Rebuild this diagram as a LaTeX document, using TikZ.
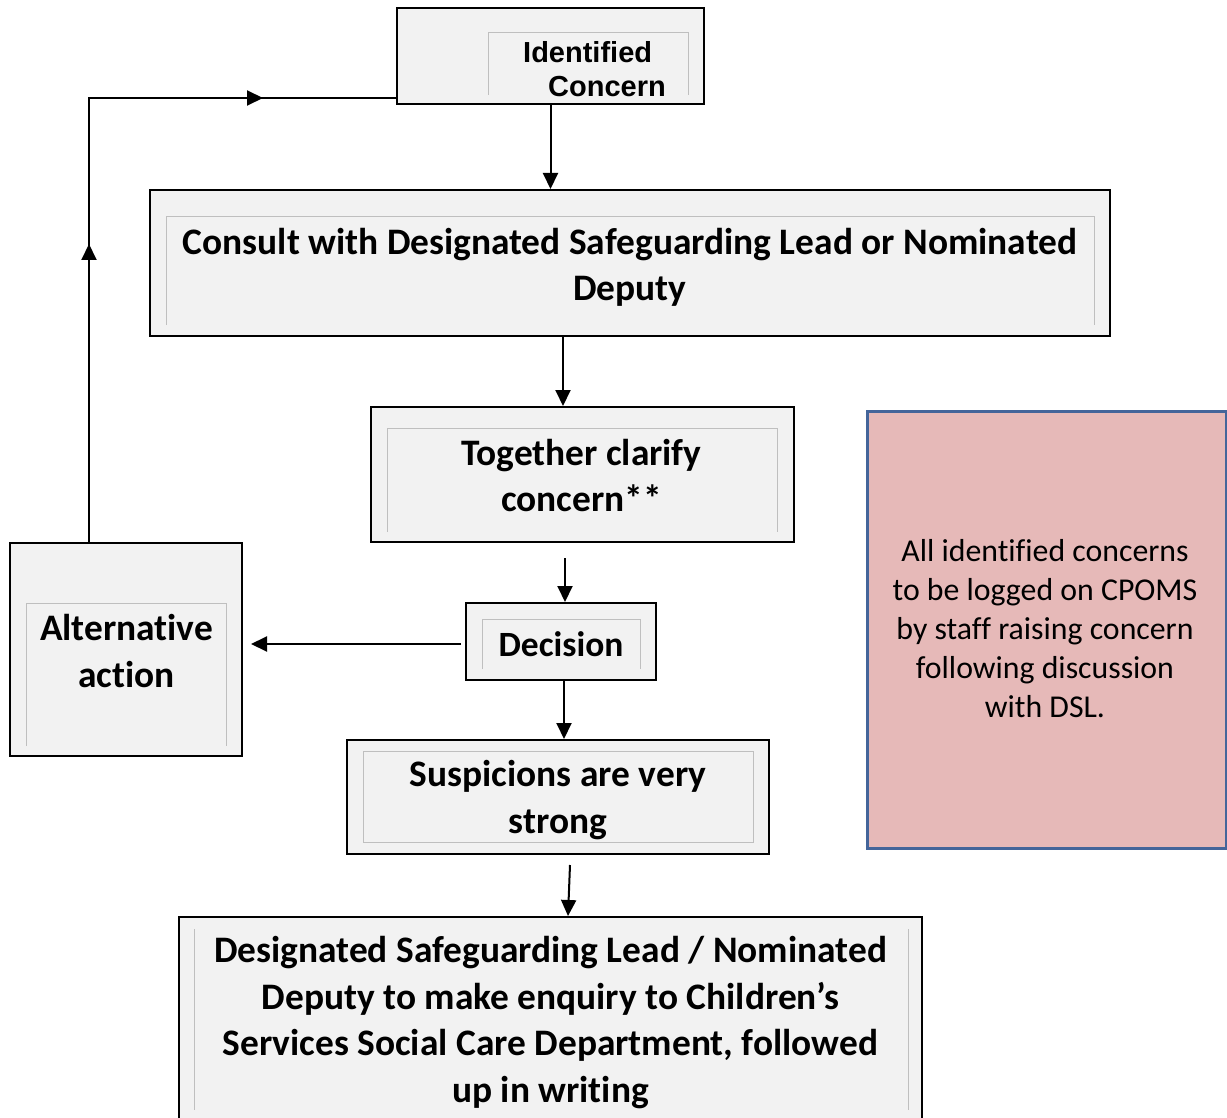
\documentclass[tikz,border=0pt]{standalone}
\usepackage{fontspec}
\setmainfont{Carlito}[Ligatures=NoCommon]
\newfontfamily\arialfont{Liberation Sans}
\usetikzlibrary{arrows.meta,decorations.markings,calc}
\definecolor{boxfill}{HTML}{F2F2F2}
\definecolor{innerline}{HTML}{BFBFBF}
\definecolor{notefill}{HTML}{E6B9B8}
\definecolor{noteline}{HTML}{44659A}
\begin{document}
\begin{tikzpicture}[x=1pt,y=-1pt,
  box/.style={draw=black, line width=2pt, fill=boxfill, inner sep=0pt},
  boxtext/.style={inner sep=0pt, align=center,
    font=\bfseries\fontsize{37.4}{46.5}\selectfont},
  note/.style={draw=noteline, line width=3pt, fill=notefill, inner sep=0pt},
  notetext/.style={inner sep=0pt, align=center, font=\fontsize{31.8}{39}\selectfont},
  inner/.style={draw=innerline, line width=1pt},
  tip/.style={-{Triangle[length=16pt,width=15pt]}},
  arr/.style={draw=black, line width=2pt, tip},
  loopline/.style={draw=black, line width=2pt},
]
\useasboundingbox (0,0) rectangle (1227,1118);

% boxes
\node[box, minimum width=307pt, minimum height=96pt] (ident) at (550.5,56) {};
\node[box, minimum width=960pt, minimum height=146pt] (consult) at (630,263) {};
\node[box, minimum width=423pt, minimum height=135pt] (together) at (582.5,474.5) {};
\node[box, minimum width=190pt, minimum height=77pt] (decision) at (561,641.5) {};
\node[box, minimum width=232pt, minimum height=213pt] (alt) at (126,649.5) {};
\node[box, minimum width=422pt, minimum height=114pt] (susp) at (558,797) {};
\node[box, minimum width=743pt, minimum height=206pt] (design) at (550.5,1020) {};
\node[note, minimum width=359pt, minimum height=437pt] (note) at (1046.5,629.5) {};

% inner decorative frames
\draw[inner] (488,95) |- (688,33) -- (688,95);
\draw[inner] (166,325) |- (1094,217) -- (1094,325);
\draw[inner] (387,532) |- (777,428) -- (777,532);
\draw[inner] (482,669) |- (640,619) -- (640,669);
\draw[inner] (26,746) |- (226,603) -- (226,746);
\draw[inner] (363,751) rectangle (753,842);
\draw[inner] (194,929) -- (194,1110);
\draw[inner] (908,929) -- (908,1110);

% texts
\node[font=\arialfont\bfseries\fontsize{29}{34}\selectfont, align=left, inner sep=0pt,
  anchor=north west] (identtext) at (523,41) {Identified\\\hspace*{25pt}Concern};
\node[boxtext] (consulttext) at ($(consult.center)+(0,4.5)$)
  {Consult with Designated Safeguarding Lead or Nominated\\Deputy};
\node[boxtext] (togethertext) at ($(together.center)+(-1,1)$)
  {Together clarify\\concern**};
\node[boxtext, font=\bfseries\fontsize{35.5}{46}\selectfont] (decisiontext) at ($(decision.center)+(0,3)$)
  {Decision};
\node[boxtext] (alttext) at ($(alt.center)+(0.5,1.5)$)
  {Alternative\\action};
\node[boxtext] (susptext) at ($(susp.center)+(0,3)$)
  {Suspicions are very\\strong};
\node[boxtext] (designtext) at ($(design.center)+(0,2.5)$)
  {Designated Safeguarding Lead / Nominated\\Deputy to make enquiry to Children’s\\Services Social Care Department, followed\\up in writing};
\node[notetext] (notetxt) at ($(note.center)+(-1.5,-1)$)
  {All identified concerns\\to be logged on CPOMS\\by staff raising concern\\following discussion\\with DSL.};

% connectors
\draw[arr] (ident.south) -- (ident.south |- consult.north);
\draw[arr] ([xshift=-19.5pt]together.north |- consult.south) -- ([xshift=-19.5pt]together.north);
\draw[arr] ([xshift=4pt,yshift=-15pt]decision.north |- together.south) -- ([xshift=4pt]decision.north);
\draw[arr] ([xshift=-4pt,yshift=-2.5pt]decision.west) -- ([xshift=8pt,yshift=-2.5pt]decision.west -| alt.east);
\draw[arr] ([xshift=3pt]decision.south) -- ([xshift=3pt]decision.south |- susp.north);
\draw[arr] ([xshift=12pt,yshift=-10pt]susp.south) -- ([xshift=17.5pt]design.north);
\draw[loopline, postaction={decorate}, decoration={markings,
    mark=at position 298pt with {\arrow{Triangle[length=16pt,width=15pt]}},
    mark=at position 618pt with {\arrow{Triangle[length=16pt,width=15pt]}}}]
  ([xshift=-37pt]alt.north) |- ([yshift=-42pt]ident.west);
\end{tikzpicture}
\end{document}
